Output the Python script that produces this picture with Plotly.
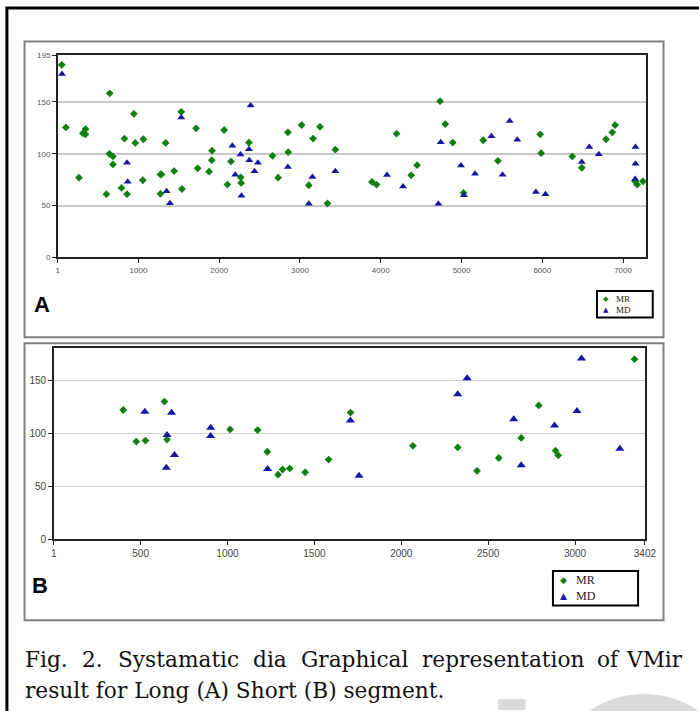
import plotly.graph_objects as go

W, H = 699, 711

# ---------------- Data: Long segment (A) ----------------
a_mr_x = [50, 101, 263, 312, 344, 344, 603, 644, 640, 684, 684, 790, 826, 858, 943, 960,
          1053, 1061, 1272, 1284, 1272, 1336, 1441, 1530, 1538, 1713, 1733, 1874, 1911, 1907,
          2061, 2101, 2146, 2267, 2271, 2368, 2660, 2729, 2850, 2854, 3020, 3109, 3162, 3247,
          3340, 3437, 3891, 3947, 4195, 4377, 4450, 4734, 4799, 4892, 5026, 5269, 5451, 5974,
          5986, 6371, 6489, 6789, 6866, 6902, 7150, 7174, 7247]
a_mr_y = [185.8, 125.4, 76.9, 119.7, 123.8, 118.7, 61, 158.3, 99.9, 97.4, 89.7, 67, 114.6, 61,
          138.5, 110.4, 74.4, 114, 80, 80, 61.3, 110.4, 83.3, 140.4, 66, 124.5, 85.9, 82.7, 103,
          93.8, 122.9, 70.2, 92.6, 77.2, 71.8, 110.8, 98, 76.9, 120.7, 101.5, 127.7, 69.6, 114.6,
          126, 52, 104, 72.8, 70.2, 119.4, 79.2, 89, 150.7, 128.6, 110.8, 62.2, 113, 93.2, 118.7,
          100.5, 97.4, 86.5, 114, 120.7, 127.7, 73.4, 70.2, 73.4]

a_md_x = [53, 858, 866, 1348, 1389, 1530, 2162, 2198, 2263, 2275, 2368, 2372, 2389, 2437, 2478,
          2850, 3109, 3154, 3437, 4077, 4276, 4713, 4742, 4993, 5030, 5167, 5370, 5508, 5597,
          5690, 5921, 6039, 6489, 6582, 6700, 7154, 7154, 7150]
a_md_y = [177, 91.3, 73, 63.8, 52.3, 135, 107.6, 79.8, 99.3, 59.4, 104.4, 93.8, 146.5, 83, 91.3,
          87.1, 51.7, 77.6, 83, 79.5, 68.3, 51.7, 111, 88.7, 60, 80.8, 116.8, 79.8, 131.5, 113.6,
          63.2, 61, 92, 106.6, 99.6, 106.6, 90.3, 75.6]

a_xticks = [1, 1000, 2000, 3000, 4000, 5000, 6000, 7000]
a_yticks = [0, 50, 100, 150, 195]

# ---------------- Data: Short segment (B) ----------------
b_mr_x = [400, 475, 528, 637, 652, 1015, 1173, 1229, 1291, 1317, 1358, 1447, 1582, 1708,
          2067, 2325, 2436, 2561, 2690, 2791, 2888, 2903, 3342]
b_mr_y = [122.4, 92.5, 93.5, 130.4, 94.4, 104, 103.4, 82.9, 61.2, 66.1, 67.1, 63.4, 75.5, 120,
          88.5, 87, 64.9, 77, 96, 126.7, 83.9, 79.5, 170.5]

b_md_x = [524, 652, 648, 678, 695, 903, 903, 1231, 1707, 1757, 2325, 2379, 2647, 2690, 2882,
          3011, 3037, 3258]
b_md_y = [120.8, 98.8, 67.7, 119.9, 79.8, 105.6, 97.8, 66.5, 112.4, 60.2, 137.3, 152.5, 113.7,
          70.2, 107.8, 121.4, 171.1, 85.7]

b_xticks = [1, 500, 1000, 1500, 2000, 2500, 3000, 3402]
b_yticks = [0, 50, 100, 150]

series_names = ["MR", "MD"]
caption1_words = ["Fig.", "2.", "Systamatic", "dia", "Graphical", "representation", "of", "VMir"]
caption1_xpos = [21, 80, 117, 254, 304, 427, 606, 696]
caption2 = "result for Long (A) Short (B) segment."

GREEN = "#0f800f"
BLUE = "#1515a5"
CAPFONT = dict(family="DejaVu Serif, Liberation Serif, serif", size=21.7, color="#111")


def px(x):
    return x / W


def py(y):
    return 1 - y / H


fig = go.Figure()
fig.add_trace(go.Scatter(x=a_mr_x, y=a_mr_y, mode="markers", name=series_names[0],
                         marker=dict(symbol="diamond", size=6, color=GREEN),
                         xaxis="x", yaxis="y"))
fig.add_trace(go.Scatter(x=a_md_x, y=a_md_y, mode="markers", name=series_names[1],
                         marker=dict(symbol="triangle-up", size=7, color=BLUE),
                         xaxis="x", yaxis="y"))
fig.add_trace(go.Scatter(x=b_mr_x, y=b_mr_y, mode="markers", name=series_names[0],
                         marker=dict(symbol="diamond", size=6, color=GREEN),
                         xaxis="x2", yaxis="y2"))
fig.add_trace(go.Scatter(x=b_md_x, y=b_md_y, mode="markers", name=series_names[1],
                         marker=dict(symbol="triangle-up", size=8, color=BLUE),
                         xaxis="x2", yaxis="y2"))

tickfont_a = dict(family="Liberation Sans, Arial", size=8, color="#555")
tickfont_b = dict(family="Liberation Sans, Arial", size=10, color="#444")

axis_common = dict(showline=True, linecolor="#222", mirror=True, ticks="outside",
                   tickcolor="#222", ticklen=4, zeroline=False, fixedrange=True)

fig.update_layout(
    width=W, height=H,
    margin=dict(l=0, r=0, t=0, b=0),
    paper_bgcolor="white", plot_bgcolor="white",
    showlegend=False,
    xaxis=dict(domain=[px(56), px(657)], anchor="y", range=[1, 7283],
               tickvals=a_xticks, ticktext=[str(v) for v in a_xticks],
               showgrid=False, tickfont=tickfont_a, linewidth=1.5, **axis_common),
    yaxis=dict(domain=[py(257), py(52)], anchor="x", range=[0, 195],
               tickvals=a_yticks, ticktext=[str(v) for v in a_yticks],
               showgrid=True, gridcolor="#c8c8c8", gridwidth=1.5,
               tickfont=tickfont_a, linewidth=1.5, **axis_common),
    xaxis2=dict(domain=[px(52), px(656)], anchor="y2", range=[1, 3402],
                tickvals=b_xticks, ticktext=[str(v) for v in b_xticks],
                showgrid=False, tickfont=tickfont_b, linewidth=1.5, **axis_common),
    yaxis2=dict(domain=[py(543), py(349)], anchor="x2", range=[0, 181],
                tickvals=b_yticks, ticktext=[str(v) for v in b_yticks],
                showgrid=True, gridcolor="#cfcfcf", gridwidth=1,
                tickfont=tickfont_b, linewidth=1.5, **axis_common),
)

shapes = [
    # watermark fragments
    dict(type="circle", xref="paper", yref="paper", x0=px(570), x1=px(740), y0=py(885), y1=py(715),
         line=dict(color="#dadada", width=30), layer="below"),
    dict(type="rect", xref="paper", yref="paper", x0=px(506), x1=px(534), y0=py(716), y1=py(705),
         fillcolor="#dadada", line=dict(width=0), layer="below"),
    # outer black frame
    dict(type="rect", xref="paper", yref="paper", x0=px(4), x1=px(715), y0=py(720), y1=py(4),
         line=dict(color="black", width=3), layer="below"),
    # panel frames
    dict(type="rect", xref="paper", yref="paper", x0=px(22), x1=px(675), y0=py(338), y1=py(38),
         line=dict(color="#808080", width=2), layer="below"),
    dict(type="rect", xref="paper", yref="paper", x0=px(22), x1=px(675), y0=py(625), y1=py(344),
         line=dict(color="#808080", width=2), layer="below"),
    # legend boxes
    dict(type="rect", xref="paper", yref="paper", x0=px(607), x1=px(664), y0=py(318), y1=py(291),
         line=dict(color="black", width=2), fillcolor="white"),
    dict(type="rect", xref="paper", yref="paper", x0=px(562), x1=px(649), y0=py(610), y1=py(575),
         line=dict(color="black", width=2), fillcolor="white"),
]
fig.update_layout(shapes=shapes)

annotations = [
    dict(text="<b>A</b>", x=px(40), y=py(305), xref="paper", yref="paper",
         xanchor="center", yanchor="middle", showarrow=False,
         font=dict(family="Liberation Sans, Arial", size=22, color="black")),
    dict(text="<b>B</b>", x=px(38), y=py(590), xref="paper", yref="paper",
         xanchor="center", yanchor="middle", showarrow=False,
         font=dict(family="Liberation Sans, Arial", size=22, color="black")),
]

# legend entries (A)
leg_a = [(GREEN, "\u25C6", series_names[0], 299), (BLUE, "\u25B2", series_names[1], 310)]
for col, sym, name, yy in leg_a:
    annotations.append(dict(text=sym, x=px(616), y=py(yy), xref="paper", yref="paper",
                            xanchor="center", yanchor="middle", showarrow=False,
                            font=dict(family="DejaVu Sans", size=7, color=col)))
    annotations.append(dict(text=name, x=px(624), y=py(yy), xref="paper", yref="paper",
                            xanchor="left", yanchor="middle", showarrow=False,
                            font=dict(family="Liberation Serif, Times New Roman", size=9, color="#222")))
# legend entries (B)
leg_b = [(GREEN, "\u25C6", series_names[0], 584), (BLUE, "\u25B2", series_names[1], 600)]
for col, sym, name, yy in leg_b:
    annotations.append(dict(text=sym, x=px(573), y=py(yy), xref="paper", yref="paper",
                            xanchor="center", yanchor="middle", showarrow=False,
                            font=dict(family="DejaVu Sans", size=9, color=col)))
    annotations.append(dict(text=name, x=px(584), y=py(yy), xref="paper", yref="paper",
                            xanchor="left", yanchor="middle", showarrow=False,
                            font=dict(family="Liberation Serif, Times New Roman", size=12, color="#222")))

for i, (word, xp) in enumerate(zip(caption1_words, caption1_xpos)):
    annotations.append(dict(text=word, x=px(xp), y=py(665), xref="paper", yref="paper",
                            xanchor="right" if i == len(caption1_words) - 1 else "left",
                            yanchor="middle", showarrow=False, font=CAPFONT, borderpad=0))
annotations.append(dict(text=caption2, x=px(21), y=py(696), xref="paper", yref="paper",
                        xanchor="left", yanchor="middle", showarrow=False,
                        font=CAPFONT, borderpad=0))
fig.update_layout(annotations=annotations)

fig.write_html("out.html", config={"displayModeBar": False},
               post_script="document.body.style.margin='0';document.body.style.overflow='hidden';")
